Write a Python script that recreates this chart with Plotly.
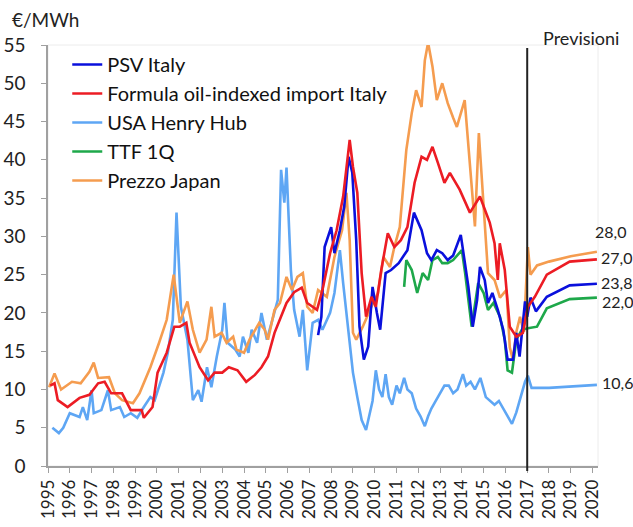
import plotly.graph_objects as go

# ---------------- data (decimal years, €/MWh) ----------------
years_ticks = list(range(1995, 2021))

japan_x = [1995.05, 1995.3, 1995.6, 1996.1, 1996.5, 1996.9, 1997.1, 1997.3, 1997.8, 1998.07, 1998.4, 1998.9,
           1999.2, 1999.7, 2000.1, 2000.45, 2000.77, 2001.05, 2001.4, 2001.65, 2001.96, 2002.28, 2002.5, 2002.65,
           2002.97, 2003.2, 2003.5, 2003.65, 2004.0, 2004.25, 2004.7, 2004.95, 2005.1, 2005.4, 2005.65, 2005.95,
           2006.2, 2006.45, 2006.7, 2006.9, 2007.15, 2007.4, 2007.8, 2008.15, 2008.5, 2008.7, 2008.85, 2009.0,
           2009.15, 2009.45, 2009.85, 2010.15, 2010.4, 2010.7, 2010.9, 2011.15, 2011.45, 2011.7, 2011.9, 2012.15,
           2012.3, 2012.45, 2012.65, 2012.85, 2013.1, 2013.35, 2013.6, 2013.77, 2014.13, 2014.35, 2014.6, 2014.78,
           2015.05, 2015.2, 2015.5, 2015.75, 2016.05, 2016.2, 2016.34, 2016.5, 2016.67, 2016.85, 2017.03, 2017.15,
           2017.45, 2018.0, 2019.0, 2020.2]
japan_y = [10.3, 12.1, 10.0, 11.0, 10.8, 12.3, 13.5, 11.5, 11.6, 9.5, 8.6, 8.2,
           9.5, 12.9, 16.1, 19.1, 25.0, 18.7, 21.5, 17.8, 14.8, 16.5, 20.8, 16.9,
           17.4, 16.1, 16.9, 15.2, 14.8, 16.5, 18.7, 17.8, 16.5, 20.4, 21.3, 24.7,
           23.0, 24.7, 25.2, 20.8, 20.0, 23.0, 22.1, 27.3, 30.8, 35.7, 29.5, 17.4,
           16.5, 18.2, 20.8, 22.6, 27.3, 26.0, 28.6, 31.2, 41.3, 46.1, 49.1, 46.9,
           53.0, 55.3, 52.2, 47.8, 50.0, 47.4, 45.5, 44.3, 47.8, 40.0, 31.3, 43.5,
           31.2, 25.2, 24.3, 22.0, 23.0, 15.5, 13.9, 17.5, 19.5, 17.5, 28.6, 25.0,
           26.2, 26.7, 27.4, 28.0]

formula_x = [1995.1, 1995.3, 1995.45, 1995.9, 1996.45, 1996.9, 1997.3, 1997.6, 1997.9, 1998.4, 1998.8, 1999.3,
             1999.4, 1999.8, 2000.03, 2000.45, 2000.8, 2001.05, 2001.35, 2001.5, 2001.96, 2002.35, 2002.65, 2003.0,
             2003.3, 2003.7, 2004.1, 2004.5, 2004.8, 2005.1, 2005.4, 2005.7, 2005.95, 2006.3, 2006.65, 2006.9,
             2007.35, 2007.6, 2007.95, 2008.25, 2008.55, 2008.85, 2009.0, 2009.2, 2009.4, 2009.6, 2009.85, 2010.05,
             2010.3, 2010.6, 2010.9, 2011.2, 2011.5, 2011.83, 2012.15, 2012.4, 2012.65, 2012.9, 2013.2, 2013.45,
             2013.9, 2014.37, 2014.83, 2015.28, 2015.5, 2015.65, 2015.74, 2015.97, 2016.2, 2016.5, 2016.8, 2017.03,
             2017.35, 2017.9, 2018.95, 2020.2]
formula_y = [10.5, 10.8, 8.6, 7.7, 8.9, 9.3, 10.8, 11.0, 9.5, 9.5, 7.3, 7.3,
             6.3, 7.7, 12.2, 14.8, 18.2, 18.2, 18.7, 16.1, 12.9, 11.2, 12.2, 12.2,
             12.9, 12.5, 11.0, 11.9, 12.9, 14.3, 17.4, 19.5, 21.3, 22.7, 23.3, 21.3,
             20.4, 23.0, 27.8, 30.8, 35.2, 42.6, 39.1, 35.7, 25.2, 19.5, 22.1, 20.8,
             25.6, 30.4, 28.6, 29.5, 31.2, 37.0, 40.4, 40.0, 41.7, 39.6, 37.0, 38.3,
             36.1, 33.1, 35.2, 31.8, 29.1, 24.3, 29.1, 25.6, 18.2, 16.9, 17.4, 20.8,
             22.1, 25.0, 26.7, 27.0]

psv_x = [2007.4, 2007.55, 2007.7, 2007.85, 2008.0, 2008.15, 2008.4, 2008.6, 2008.8, 2008.97, 2009.15, 2009.3,
         2009.5, 2009.7, 2009.9, 2010.1, 2010.25, 2010.5, 2010.75, 2011.1, 2011.5, 2011.8, 2012.15, 2012.4,
         2012.6, 2012.85, 2013.1, 2013.35, 2013.6, 2013.95, 2014.15, 2014.3, 2014.5, 2014.7, 2014.83, 2015.05,
         2015.2, 2015.4, 2015.65, 2015.9, 2016.1, 2016.35, 2016.5, 2016.65, 2016.9, 2017.0, 2017.15, 2017.4,
         2017.9, 2018.95, 2020.2]
psv_y = [17.1, 19.5, 28.6, 29.9, 31.2, 27.8, 30.8, 33.9, 40.4, 38.3, 29.5, 18.2,
         13.9, 15.6, 23.4, 20.0, 17.8, 25.2, 25.6, 26.5, 28.2, 33.1, 30.8, 27.8,
         26.9, 28.2, 27.8, 26.9, 27.5, 30.2, 26.0, 23.4, 18.2, 21.7, 26.0, 24.3,
         21.3, 22.6, 20.4, 17.8, 13.9, 13.9, 17.4, 14.3, 21.5, 19.5, 22.0, 20.2,
         22.1, 23.6, 23.8]

ttf_x = [2011.35, 2011.45, 2011.7, 2011.95, 2012.2, 2012.45, 2012.65, 2012.9, 2013.1, 2013.35, 2013.6, 2014.0,
         2014.15, 2014.45, 2014.75, 2015.0, 2015.2, 2015.45, 2015.75, 2015.97, 2016.1, 2016.3, 2016.5, 2016.75,
         2017.03, 2017.45, 2017.9, 2018.95, 2020.2]
ttf_y = [23.4, 26.9, 25.6, 22.6, 25.2, 24.3, 26.9, 27.3, 26.5, 26.5, 26.9, 28.2,
         25.2, 18.2, 23.9, 22.6, 20.4, 21.3, 19.5, 16.5, 12.5, 12.2, 16.5, 17.8,
         18.0, 18.2, 20.6, 21.8, 22.0]

hh_x = [1995.2, 1995.5, 1995.7, 1996.0, 1996.45, 1996.6, 1996.8, 1997.0, 1997.1, 1997.45, 1997.75, 1997.9,
        1998.3, 1998.5, 1998.8, 1999.1, 1999.4, 1999.7, 1999.9, 2000.3, 2000.5, 2000.73, 2000.9, 2001.1,
        2001.4, 2001.65, 2001.9, 2002.05, 2002.3, 2002.5, 2002.75, 2003.0, 2003.1, 2003.25, 2003.6, 2003.8,
        2003.95, 2004.2, 2004.35, 2004.6, 2004.8, 2005.05, 2005.3, 2005.55, 2005.7, 2005.85, 2005.95, 2006.15,
        2006.3, 2006.55, 2006.7, 2006.9, 2007.15, 2007.4, 2007.6, 2007.95, 2008.15, 2008.4, 2008.55, 2008.8,
        2009.0, 2009.2, 2009.4, 2009.6, 2009.75, 2009.9, 2010.05, 2010.2, 2010.35, 2010.5, 2010.65, 2010.8,
        2011.0, 2011.15, 2011.35, 2011.5, 2011.7, 2011.9, 2012.1, 2012.3, 2012.45, 2012.6, 2012.8, 2013.0,
        2013.2, 2013.4, 2013.6, 2013.8, 2014.05, 2014.2, 2014.4, 2014.6, 2014.85, 2015.1, 2015.3, 2015.5,
        2015.7, 2015.9, 2016.1, 2016.3, 2016.5, 2016.7, 2016.9, 2017.03, 2017.2, 2018.0, 2019.0, 2020.2]
hh_y = [5.0, 4.3, 5.0, 6.9, 6.4, 7.7, 6.0, 9.9, 6.9, 7.3, 9.9, 7.3,
        7.7, 6.4, 6.9, 6.3, 7.7, 9.0, 8.6, 12.2, 14.8, 19.1, 33.1, 20.8,
        16.5, 8.6, 9.9, 8.4, 12.9, 10.3, 14.3, 17.8, 21.3, 16.1, 15.2, 14.3,
        16.9, 14.8, 17.8, 16.1, 20.0, 16.5, 19.1, 21.7, 38.7, 34.4, 39.0, 25.6,
        20.4, 16.9, 20.4, 12.5, 18.7, 19.1, 17.8, 20.0, 22.6, 28.2, 23.9, 17.8,
        12.2, 9.0, 6.0, 4.7, 6.5, 8.5, 12.5, 10.0, 9.0, 12.0, 9.0, 8.0,
        10.5, 9.5, 11.5, 10.0, 9.5, 7.5, 6.5, 5.2, 6.5, 7.5, 8.5, 9.5,
        10.5, 10.5, 9.5, 10.0, 12.0, 10.5, 11.0, 10.0, 11.5, 9.0, 8.5, 8.0,
        8.5, 7.5, 6.5, 5.5, 7.0, 9.0, 11.0, 11.8, 10.2, 10.2, 10.4, 10.6]

forecast_start = 2017
end_labels = ["28,0", "27,0", "23,8", "22,0", "10,6"]

C_PSV = "#0a10dc"
C_FORM = "#ec1c24"
C_HH = "#5ea6f4"
C_TTF = "#1ea84a"
C_JAP = "#f59c4f"
FONT = "Lato"

fig = go.Figure()
series = [
    ("USA Henry Hub", hh_x, hh_y, C_HH, 3),
    ("Prezzo Japan", japan_x, japan_y, C_JAP, 5),
    ("TTF 1Q", ttf_x, ttf_y, C_TTF, 4),
    ("PSV Italy", psv_x, psv_y, C_PSV, 1),
    ("Formula oil-indexed import Italy", formula_x, formula_y, C_FORM, 2),
]
for name, xs, ys, col, rank in series:
    fig.add_trace(go.Scatter(x=xs, y=ys, mode="lines", name=name, legendrank=rank,
                             legendgroup=name,
                             line=dict(color=col, width=2.6)))

# forecast divider
fig.add_shape(type="line", x0=forecast_start, x1=forecast_start, xref="x",
              y0=-0.012, y1=0.993, yref="paper", line=dict(color="#222222", width=2))
fig.add_shape(type="rect", xref="paper", yref="paper", x0=0, x1=1, y0=0, y1=1,
              line=dict(color="#ececec", width=1), layer="below")

# end labels: (x, y, text, xshift, yshift)
ends = [(japan_x[-1], japan_y[-1], end_labels[0], -4, 20),
        (formula_x[-1], formula_y[-1], end_labels[1], 2, 2),
        (psv_x[-1], psv_y[-1], end_labels[2], 2, 1),
        (ttf_x[-1], ttf_y[-1], end_labels[3], 3, -4),
        (hh_x[-1], hh_y[-1], end_labels[4], 3, 2)]
for ex, ey, txt, xs, ys in ends:
    fig.add_annotation(x=ex, y=ey, text=txt, showarrow=False, xanchor="left", yanchor="middle",
                       xshift=xs, yshift=ys,
                       font=dict(family=FONT, size=16, color="#222222"))

fig.add_annotation(x=-0.069, y=1.06, xref="paper", yref="paper", text="€/MWh", showarrow=False,
                   xanchor="left", yanchor="middle", font=dict(family=FONT, size=19, color="#222222"))
fig.add_annotation(x=0.896, y=1.017, xref="paper", yref="paper", text="Previsioni", showarrow=False,
                   xanchor="left", yanchor="middle", font=dict(family=FONT, size=18, color="#222222"))

fig.update_layout(
    width=633, height=527,
    margin=dict(l=48, r=35, t=45, b=61, autoexpand=False),
    paper_bgcolor="white", plot_bgcolor="white",
    font=dict(family=FONT, size=18, color="#222222"),
    showlegend=True,
    legend=dict(x=0.035, y=1.0, xanchor="left", yanchor="top", bgcolor="rgba(0,0,0,0)",
                font=dict(family=FONT, size=20, color="#111111"), tracegroupgap=11,
                traceorder="normal"),
)
fig.update_xaxes(range=[1995, 2020.25], tickmode="array", tickvals=years_ticks,
                 ticktext=[str(y) for y in years_ticks], tickangle=-90, automargin=False,
                 showgrid=False, zeroline=False, showline=True, linecolor="#a0a0a0", linewidth=1.5,
                 ticks="outside", ticklen=5, tickcolor="#a0a0a0",
                 tickfont=dict(family=FONT, size=17, color="#222222"))
fig.update_yaxes(range=[0, 55], dtick=5, tick0=0, automargin=False, ticklabelstandoff=12,
                 showgrid=False, zeroline=False, showline=True, linecolor="#a0a0a0", linewidth=1.5,
                 ticks="outside", ticklen=5, tickcolor="#a0a0a0",
                 tickfont=dict(family=FONT, size=19, color="#222222"))

fig.write_html("out.html", config={"displayModeBar": False},
               post_script="document.body.style.margin='0';")
